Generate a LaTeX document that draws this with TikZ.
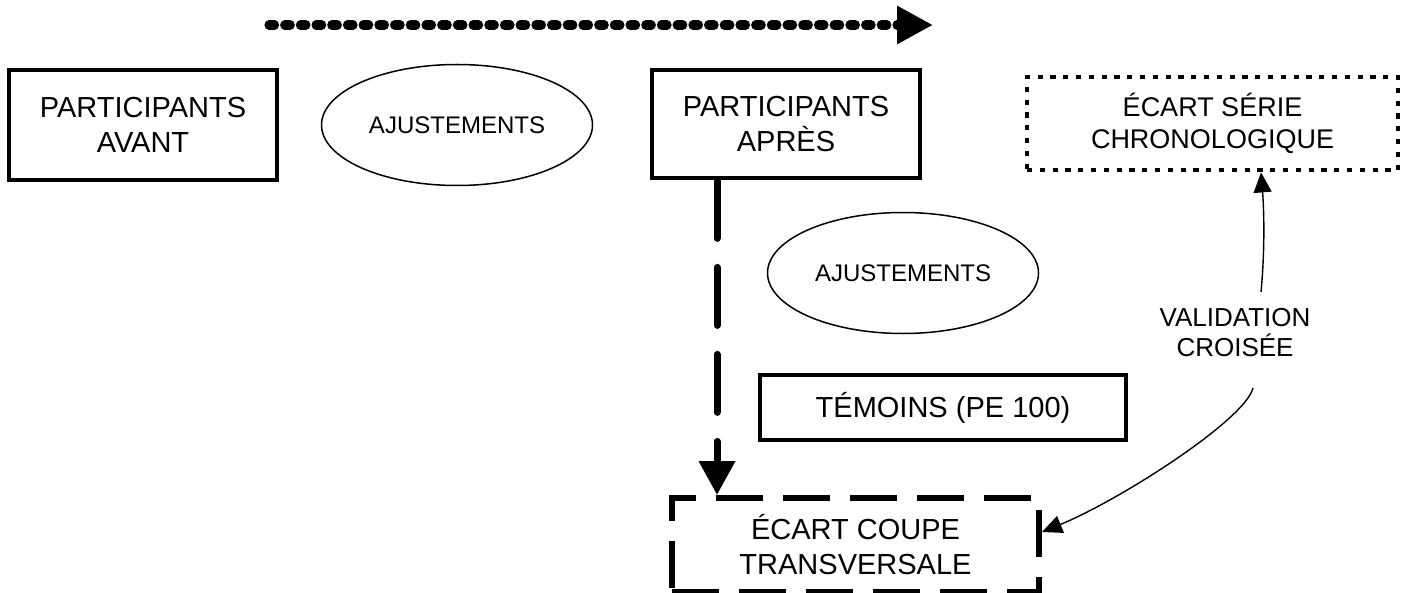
\documentclass[tikz,border=0pt]{standalone}
\usepackage{fontspec}
\setmainfont{Liberation Sans}
\usetikzlibrary{arrows.meta,shapes.geometric}

\begin{document}
\begin{tikzpicture}[x=0.5pt,y=-0.5pt,
	boite/.style={draw,line width=2.4pt,align=center,font=\fontsize{14.5}{17.5}\selectfont},
	bulle/.style={draw,ellipse,line width=0.75pt,inner sep=0pt,minimum width=135.5pt,minimum height=60.5pt,font=\fontsize{12}{14}\selectfont},
	mince/.style={line width=0.7pt,-{Triangle[length=10pt,width=9pt]}}]
				%fix the frame
				\useasboundingbox (0,0) rectangle (1411,593);
				%draw time arrow
				\coordinate (t0) at (269,25);
				\coordinate (t1) at (933,25);
				\draw[line width=4.6pt,line cap=round,dash pattern=on 2.75pt off 5.1pt,-{Triangle[length=18pt,width=18pt]}] (t0) -- (t1);
				%draw nodes
				\node[boite,minimum width=134pt,minimum height=55pt] (avant) at (143,125) {PARTICIPANTS\\AVANT};
				\node[bulle] (ajust1) at (457,125) {AJUSTEMENTS};
				\node[boite,minimum width=134pt,minimum height=54pt] (apres) at (786,124) {PARTICIPANTS\\APRÈS};
				\node[boite,dash pattern=on 2.6pt off 3.8pt,minimum width=185.5pt,minimum height=46.5pt,font=\fontsize{13.5}{16}\selectfont] (serie) at (1212.5,123.5) {ÉCART SÉRIE\\CHRONOLOGIQUE};
				\node[bulle] (ajust2) at (903,273) {AJUSTEMENTS};
				\node[boite,minimum width=183pt,minimum height=32.5pt] (temoins) at (943,407.5) {TÉMOINS (PE 100)};
				\node[boite,line width=3pt,dash pattern=on 23.5pt off 10pt,minimum width=183.5pt,minimum height=47pt] (coupe) at (855.5,545) {ÉCART COUPE\\TRANSVERSALE};
				\node[align=center,font=\fontsize{13}{15}\selectfont] (valid) at (1235,333) {VALIDATION\\CROISÉE};
				%draw connectors
				\coordinate (v0) at ([xshift=-34.5pt]apres.south);
				\draw[line width=3.5pt,line cap=round,dash pattern=on 29pt off 14.5pt,-{Triangle[length=17pt,width=17.5pt]}] (v0) -- (v0 |- coupe.north);
				\coordinate (c0) at (1261,292);
				\draw[mince] (c0) .. controls (1265,250) and (1264,210) .. (c0 |- serie.south);
				\coordinate (c2) at (1253,388);
				\draw[mince] (c2) .. controls (1245,420) and (1120,500) .. ([yshift=6.5pt]coupe.east);
\end{tikzpicture}
\end{document}
